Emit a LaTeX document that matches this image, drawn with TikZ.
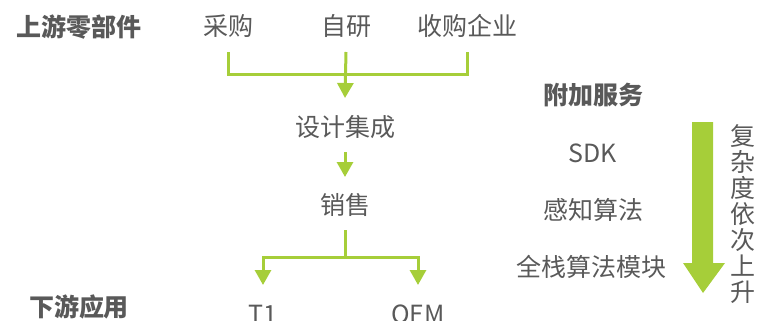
\documentclass[tikz,border=0pt]{standalone}
\usepackage{fontspec}
\setmainfont{Noto Sans CJK SC}
\usetikzlibrary{arrows.meta,calc}
\definecolor{grn}{RGB}{166,206,57}
\definecolor{txt}{RGB}{89,89,89}
\begin{document}
\begin{tikzpicture}[x=1pt,y=-1pt,
  lbl/.style={inner sep=0pt,text=txt,font=\fontsize{25}{27}\selectfont},
  hdr/.style={inner sep=0pt,text=txt,font=\fontsize{25}{27}\selectfont\bfseries},
  conn/.style={draw=grn,line width=3pt},
  arr/.style={conn,-{Triangle[width=16pt,length=15pt]}}]
\useasboundingbox (0,0) rectangle (761,321);
\node[hdr] (up) at (79,27) {上游零部件};
\node[hdr] (down) at (79,307) {下游应用};
\node[hdr] (svc) at (593,95) {附加服务};
\node[lbl] (caigou) at (228,26) {采购};
\node[lbl] (ziyan) at (346,26) {自研};
\node[lbl] (shougou) at (467,26) {收购企业};
\node[lbl] (sheji) at (345,127) {设计集成};
\node[lbl] (xiaoshou) at (345,205) {销售};
\node[lbl] (t1) at (263,314) {T1};
\node[lbl] (oem) at (418,314) {OEM};
\node[lbl] (sdk) at (593,153) {SDK};
\node[lbl] (ganzhi) at (593,210) {感知算法};
\node[lbl] (quanzhan) at (591,267) {全栈算法模块};
\node[lbl,align=center,font=\fontsize{25}{26}\selectfont] (vert) at (743,214) {复\\杂\\度\\依\\次\\上\\升};
\draw[conn] ([yshift=-26pt]caigou.center) |- ([yshift=-49pt]shougou.center) -- ([yshift=-26pt]shougou.center);
\draw[arr] ([yshift=-26pt]ziyan.center) -- ([yshift=29pt]sheji.center);
\draw[arr] ([yshift=-25pt]sheji.center) -- ([yshift=28pt]xiaoshou.center);
\coordinate (split) at ($(xiaoshou.center)+(0,52)$);
\draw[arr] ([yshift=-25pt]xiaoshou.center) -- (split) -| ([yshift=29pt]t1.center);
\draw[arr] (split) -| ([yshift=29pt]oem.center);
\fill[grn] (692,122) -- (713,122) -- (713,263) -- (725,263) -- (703,293) -- (683,263) -- (692,263) -- cycle;
\end{tikzpicture}
\end{document}
